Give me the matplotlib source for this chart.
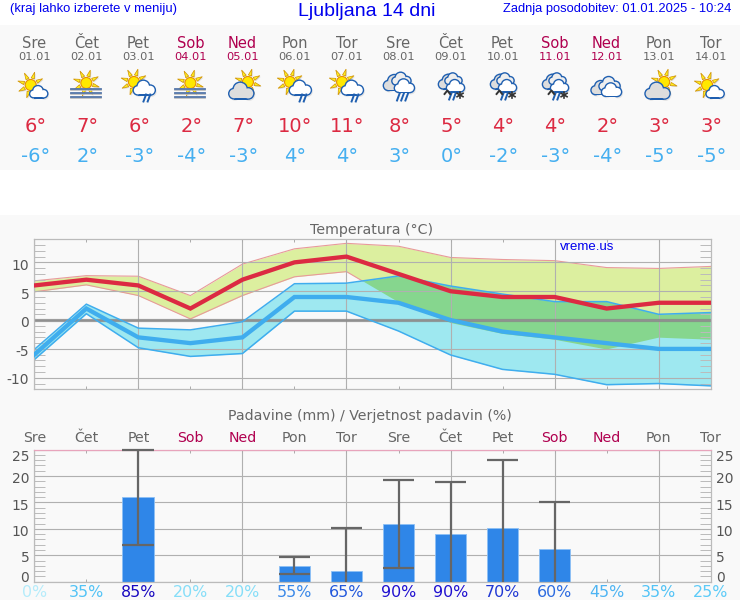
import numpy as np
import matplotlib
matplotlib.use('Agg')
import matplotlib.pyplot as plt
from matplotlib.patches import Circle, Rectangle, Polygon
from matplotlib.transforms import ScaledTranslation

dni = ['Sre', 'Čet', 'Pet', 'Sob', 'Ned', 'Pon', 'Tor', 'Sre', 'Čet', 'Pet', 'Sob', 'Ned', 'Pon', 'Tor']
datumi = ['01.01', '02.01', '03.01', '04.01', '05.01', '06.01', '07.01',
          '08.01', '09.01', '10.01', '11.01', '12.01', '13.01', '14.01']
vikend = [3, 4, 10, 11]
ikone = ['sonce_oblak', 'megla', 'sonce_dez', 'megla', 'oblak_sonce', 'sonce_dez', 'sonce_dez',
         'dez', 'sneg', 'sneg', 'sneg', 'oblaki', 'oblak_sonce', 'sonce_oblak']

tmax = [6, 7, 6, 2, 7, 10, 11, 8, 5, 4, 4, 2, 3, 3]
tmin = [-6, 2, -3, -4, -3, 4, 4, 3, 0, -2, -3, -4, -5, -5]
tmax_zg = [6.8, 7.7, 7.6, 4.25, 9.7, 12.35, 13.3, 12.8, 10.85, 10.5, 10.3, 9.1, 8.95, 9.3]
tmax_sp = [4.9, 6.1, 4.25, 0.2, 4.25, 7.5, 8.4, 3.1, -0.5, -2.4, -3.4, -5.1, -3.05, -3.4]
tmin_zg = [-5.1, 2.76, -1.4, -1.7, -0.3, 6.3, 6.4, 7.65, 5.9, 4.5, 3.2, 3.2, 1.0, 1.3]
tmin_sp = [-6.85, 1.1, -4.8, -6.3, -5.8, 1.55, 1.55, -1.9, -6.05, -8.55, -9.4, -11.2, -11.0, -11.4]

padavine = [0, 0, 16, 0, 0, 3, 2, 11, 9, 10.1, 6.1, 0, 0, 0]
pad_sp = [0, 0, 7, 0, 0, 1.45, 0, 2.6, 0, 0, 0, 0, 0, 0]
pad_zg = [0, 0, 25, 0, 0, 4.6, 10.1, 19.25, 18.9, 23, 15.15, 0, 0, 0]
verjetnost = [0, 35, 85, 20, 20, 55, 65, 90, 90, 70, 60, 45, 35, 25]
barve_verj = {0: '#b5ecfb', 20: '#86def8', 25: '#5ccbf8', 35: '#52c3f6', 45: '#4db4f3', 55: '#3a88e8',
              60: '#2c6be0', 65: '#2258dc', 70: '#2038d4', 85: '#1808c0', 90: '#2010d0'}

siva = '#666666'
vikend_barva = '#b0004f'
rdeca = '#dc2a42'
modra = '#3fadee'
W, H = 740, 600
x = np.arange(14)

fig = plt.figure(figsize=(W / 100, H / 100), dpi=100, facecolor='#f9f9f9')

# ozadje in glava, vse v pikslih
bg = fig.add_axes([0, 0, 1, 1], zorder=-1)
bg.set_xlim(0, W)
bg.set_ylim(H, 0)
bg.axis('off')
bg.add_patch(Rectangle((0, 0), W, 25, color='white', lw=0))
bg.add_patch(Rectangle((0, 170), W, 45, color='white', lw=0))


def sonce(cx, cy, r=5.5):
    for a in np.arange(8) * np.pi / 4 + 0.3:
        sirina = 0.24
        tocke = [(cx + (r + 1.6) * np.cos(a - sirina), cy + (r + 1.6) * np.sin(a - sirina)),
                 (cx + (r + 8) * np.cos(a), cy + (r + 8) * np.sin(a)),
                 (cx + (r + 1.6) * np.cos(a + sirina), cy + (r + 1.6) * np.sin(a + sirina))]
        bg.add_patch(Polygon([(p + 1, q + 1) for p, q in tocke], fc='#bbbbbb', alpha=0.5, lw=0))
        bg.add_patch(Polygon(tocke, fc='#fff020', ec='#d09000', lw=0.5))
    bg.add_patch(Circle((cx, cy), r, fc='#ffe800', ec='#e89000', lw=0.8))


def oblak(cx, cy, s, barva='white'):
    krogi = [(-0.62, 0.22, 0.38), (-0.1, -0.14, 0.54), (0.56, 0.2, 0.42)]
    for dx, dy, r in krogi:
        bg.add_patch(Circle((cx + s * dx + 1, cy + s * dy + 1.5), s * r + 1, fc='#bbbbbb', alpha=0.35, lw=0))
    for dx, dy, r in krogi:
        bg.add_patch(Circle((cx + s * dx, cy + s * dy), s * r + 1.4, fc='#1f5fb0', lw=0))
    bg.add_patch(Rectangle((cx - 0.62 * s, cy + 0.1 * s), 1.18 * s, 0.5 * s + 1.4, fc='#1f5fb0', lw=0))
    for dx, dy, r in krogi:
        bg.add_patch(Circle((cx + s * dx, cy + s * dy), s * r, fc=barva, lw=0))
    bg.add_patch(Rectangle((cx - 0.62 * s, cy + 0.05 * s), 1.18 * s, 0.55 * s, fc=barva, lw=0))


def dez(cx, cy, n=2, barva='#1f5fb0'):
    for i in range(n):
        px = cx + (i - (n - 1) / 2) * 4.2
        bg.plot([px + 1.3, px - 1.3], [cy - 3.5, cy + 3.5], color=barva, lw=1.4)


def zvezda(cx, cy):
    for a in np.arange(3) * np.pi / 3 + np.pi / 2:
        bg.plot([cx - 3.4 * np.cos(a), cx + 3.4 * np.cos(a)], [cy - 3.4 * np.sin(a), cy + 3.4 * np.sin(a)],
                color='#333333', lw=1.2)


def ikona(vrsta, cx, cy):
    if vrsta == 'sonce_oblak':
        sonce(cx - 3.6, cy - 2)
        oblak(cx + 4.5, cy + 5, 8.5)
    elif vrsta == 'megla':
        sonce(cx, cy - 4)
        for dy in [2, 6, 10]:
            bg.plot([cx - 15, cx + 15], [cy + dy + 0.8, cy + dy + 0.8], color='#bbbbbb', lw=1.2)
            bg.plot([cx - 15, cx + 15], [cy + dy, cy + dy], color='#5577aa', lw=1.3)
    elif vrsta == 'sonce_dez':
        sonce(cx - 4.4, cy - 5)
        oblak(cx + 6, cy + 1, 10.5)
        dez(cx + 8.5, cy + 11)
    elif vrsta == 'oblak_sonce':
        sonce(cx + 5.5, cy - 5)
        oblak(cx - 1, cy + 4, 12, '#dddddd')
    elif vrsta == 'dez':
        oblak(cx - 3, cy - 4, 11.5, '#dddddd')
        oblak(cx + 3, cy - 8, 9, '#eeeeee')
        oblak(cx + 6, cy - 1, 9.5)
        dez(cx + 4, cy + 10, 3)
    elif vrsta == 'sneg':
        oblak(cx - 1, cy - 5, 10.5, '#dddddd')
        oblak(cx + 3, cy - 8, 8, '#eeeeee')
        oblak(cx + 5, cy - 1, 8.5)
        dez(cx + 2, cy + 9, 2)
        bg.plot([cx - 6, cx - 3.2, cx - 0.5], [cy + 7, cy + 3.5, cy + 7], color='#333333', lw=1.4)
        zvezda(cx + 9.5, cy + 8)
    elif vrsta == 'oblaki':
        oblak(cx - 5, cy + 1, 10, '#dddddd')
        oblak(cx + 3, cy - 3, 10, '#eeeeee')
        oblak(cx + 5, cy + 3, 9.5)


bg.text(10, 12, '(kraj lahko izberete v meniju)', color='#0000ee', family='Liberation Sans', fontsize=9.4)
bg.text(367, 16, 'Ljubljana 14 dni', color='#0000ee', family='Liberation Sans', fontsize=14, ha='center')
bg.text(731, 12, 'Zadnja posodobitev: 01.01.2025 - 10:24', color='#0000ee', family='Liberation Sans',
        fontsize=9.3, ha='right')

# polozaj stolpcev mora biti enak kot na grafih
ax_l, ax_r = 34.3, 710.7
stolpec = ax_l + x * (ax_r - ax_l) / 13
for i in x:
    barva = vikend_barva if i in vikend else siva
    bg.text(stolpec[i], 48.3, dni[i], color=barva, fontsize=10.5, ha='center')
    bg.text(stolpec[i], 60, datumi[i], color=barva, fontsize=8.2, ha='center')
    ikona(ikone[i], stolpec[i], 87)
    bg.text(stolpec[i] + 1, 131.7, f'{tmax[i]}°', color=rdeca, fontsize=14, ha='center')
    bg.text(stolpec[i] + 1, 162.3, f'{tmin[i]}°', color='#45aff0', fontsize=14, ha='center')

bg.text(372, 234, 'Temperatura (°C)', color=siva, fontsize=10.2, ha='center')
bg.text(370, 420, 'Padavine (mm) / Verjetnost padavin (%)', color=siva, fontsize=10.2, ha='center')


def os_v_pikslih(levo, zgoraj, desno, spodaj):
    ax = fig.add_axes([levo / W, 1 - spodaj / H, (desno - levo) / W, (spodaj - zgoraj) / H])
    ax.patch.set_alpha(0)
    ax.set_xlim(0, 13)
    ax.set_xticks(x[::2])
    ax.set_xticks(x[1::2], minor=True)
    ax.grid(True, which='major', color='#b0b0b0', lw=0.8)
    ax.tick_params(axis='x', which='both', direction='in', length=2, width=0.7, top=True, bottom=True,
                   color='#aaaaaa', labelbottom=False)
    ax.tick_params(axis='y', which='major', length=0, labelsize=10, labelcolor='#555555', pad=3.6)
    ax.tick_params(axis='y', which='minor', direction='in', length=8, width=0.7, left=True, right=True,
                   color='#bbbbbb')
    for s in ax.spines.values():
        s.set_color('#bbbbbb')
        s.set_linewidth(0.9)
    return ax


def zamakni(labels, premiki):
    for lab, dy in zip(labels, premiki):
        lab.set_transform(lab.get_transform() + ScaledTranslation(0, -dy / 72, fig.dpi_scale_trans))


# temperatura
ax1 = os_v_pikslih(ax_l, 239.3, ax_r, 389.3)
ax1.set_ylim(-12, 14)
ax1.set_yticks([-10, -5, 0, 5, 10])
ax1.set_yticks(np.arange(-12, 15), minor=True)
ax1.set_yticklabels(['-10', '-5', '0', '5', '10'])
zamakni(ax1.get_yticklabels(), [0.5, 1.5, 1.3, 1.3, 1.3])

pas_tmax = ax1.fill_between(x, tmax_sp, tmax_zg, color='#dcef9f', lw=0, zorder=1)
ax1.plot(x, tmax_zg, color='#e89a9a', lw=0.8, zorder=1.005)
ax1.plot(x, tmax_sp, color='#e89a9a', lw=0.8, zorder=1.005)
ax1.fill_between(x, tmin_sp, tmin_zg, color='#9ee8f0', lw=0, zorder=1.01)
prekrivanje = ax1.fill_between(x, tmin_sp, tmin_zg, color='#86d68e', lw=0, zorder=1.02)
prekrivanje.set_clip_path(pas_tmax.get_paths()[0], ax1.transData)
ax1.axhline(0, color='#888888', lw=2.3, alpha=0.8, zorder=1.8)
ax1.plot(x, tmin_zg, color=modra, lw=1.1, zorder=2.1)
ax1.plot(x, tmin_sp, color=modra, lw=1.1, zorder=2.1)
ax1.plot(x, tmin, color=modra, lw=3.1, zorder=3, solid_joinstyle='miter')
ax1.plot(x, tmax, color=rdeca, lw=3.1, zorder=4, solid_joinstyle='miter')
ax1.text(560, 247, 'vreme.us', color='#0000ee', family='Liberation Sans', fontsize=9.5, va='center',
         transform=bg.transData, zorder=5)

# padavine
ax2 = os_v_pikslih(ax_l, 449.5, ax_r, 581.7)
ax2.set_axisbelow(True)
ax2.set_ylim(0, 25)
ax2.set_yticks([0, 5, 10, 15, 20, 25])
ax2.set_yticks(np.arange(0, 26), minor=True)
ax2.set_yticklabels(['0', '5', '10', '15', '20', '25'])
ax2.tick_params(axis='y', which='major', labelright=True)
premiki = [-3.4, 1.2, 1, 1.5, 1, 4.3]
zamakni(ax2.get_yticklabels(), premiki)
zamakni([t.label2 for t in ax2.yaxis.get_major_ticks()], premiki)

ax2.spines['top'].set_color('#e8a4bc')
ax2.tick_params(axis='x', which='both', top=True, labeltop=True, pad=5.2, labelsize=10.2)
ax2.set_xticklabels([dni[i] for i in x[::2]])
ax2.set_xticklabels([dni[i] for i in x[1::2]], minor=True)
for t, i in zip(ax2.xaxis.get_major_ticks() + ax2.xaxis.get_minor_ticks(), list(x[::2]) + list(x[1::2])):
    t.label2.set_color(vikend_barva if i in vikend else siva)
    t.label2.set_va('baseline')
    t.tick2line.set_color('#e8a4bc')

padavine = np.array(padavine)
pad_sp = np.array(pad_sp)
pad_zg = np.array(pad_zg)
ima = padavine > 0
spodnji = pad_sp > 0
sirina = 0.61
ax2.bar(x, padavine, width=sirina, color='#2f86e8', edgecolor='#8cc0f5', lw=0.6, zorder=2)
ax2.vlines(x[ima], pad_sp[ima], pad_zg[ima], color=siva, lw=1.6, zorder=3)
ax2.hlines(pad_zg[ima], x[ima] - sirina / 2, x[ima] + sirina / 2, color=siva, lw=1.6, zorder=3, clip_on=False)
ax2.hlines(pad_sp[spodnji], x[spodnji] - sirina / 2, x[spodnji] + sirina / 2, color=siva, lw=1.6, zorder=3)

for i in x:
    ax2.text(i, -0.118, f'{verjetnost[i]}%', color=barve_verj[verjetnost[i]], fontsize=11.4, ha='center',
             va='baseline', transform=ax2.get_xaxis_transform(), clip_on=False)

fig.savefig('out.png', dpi=100, facecolor=fig.get_facecolor())
